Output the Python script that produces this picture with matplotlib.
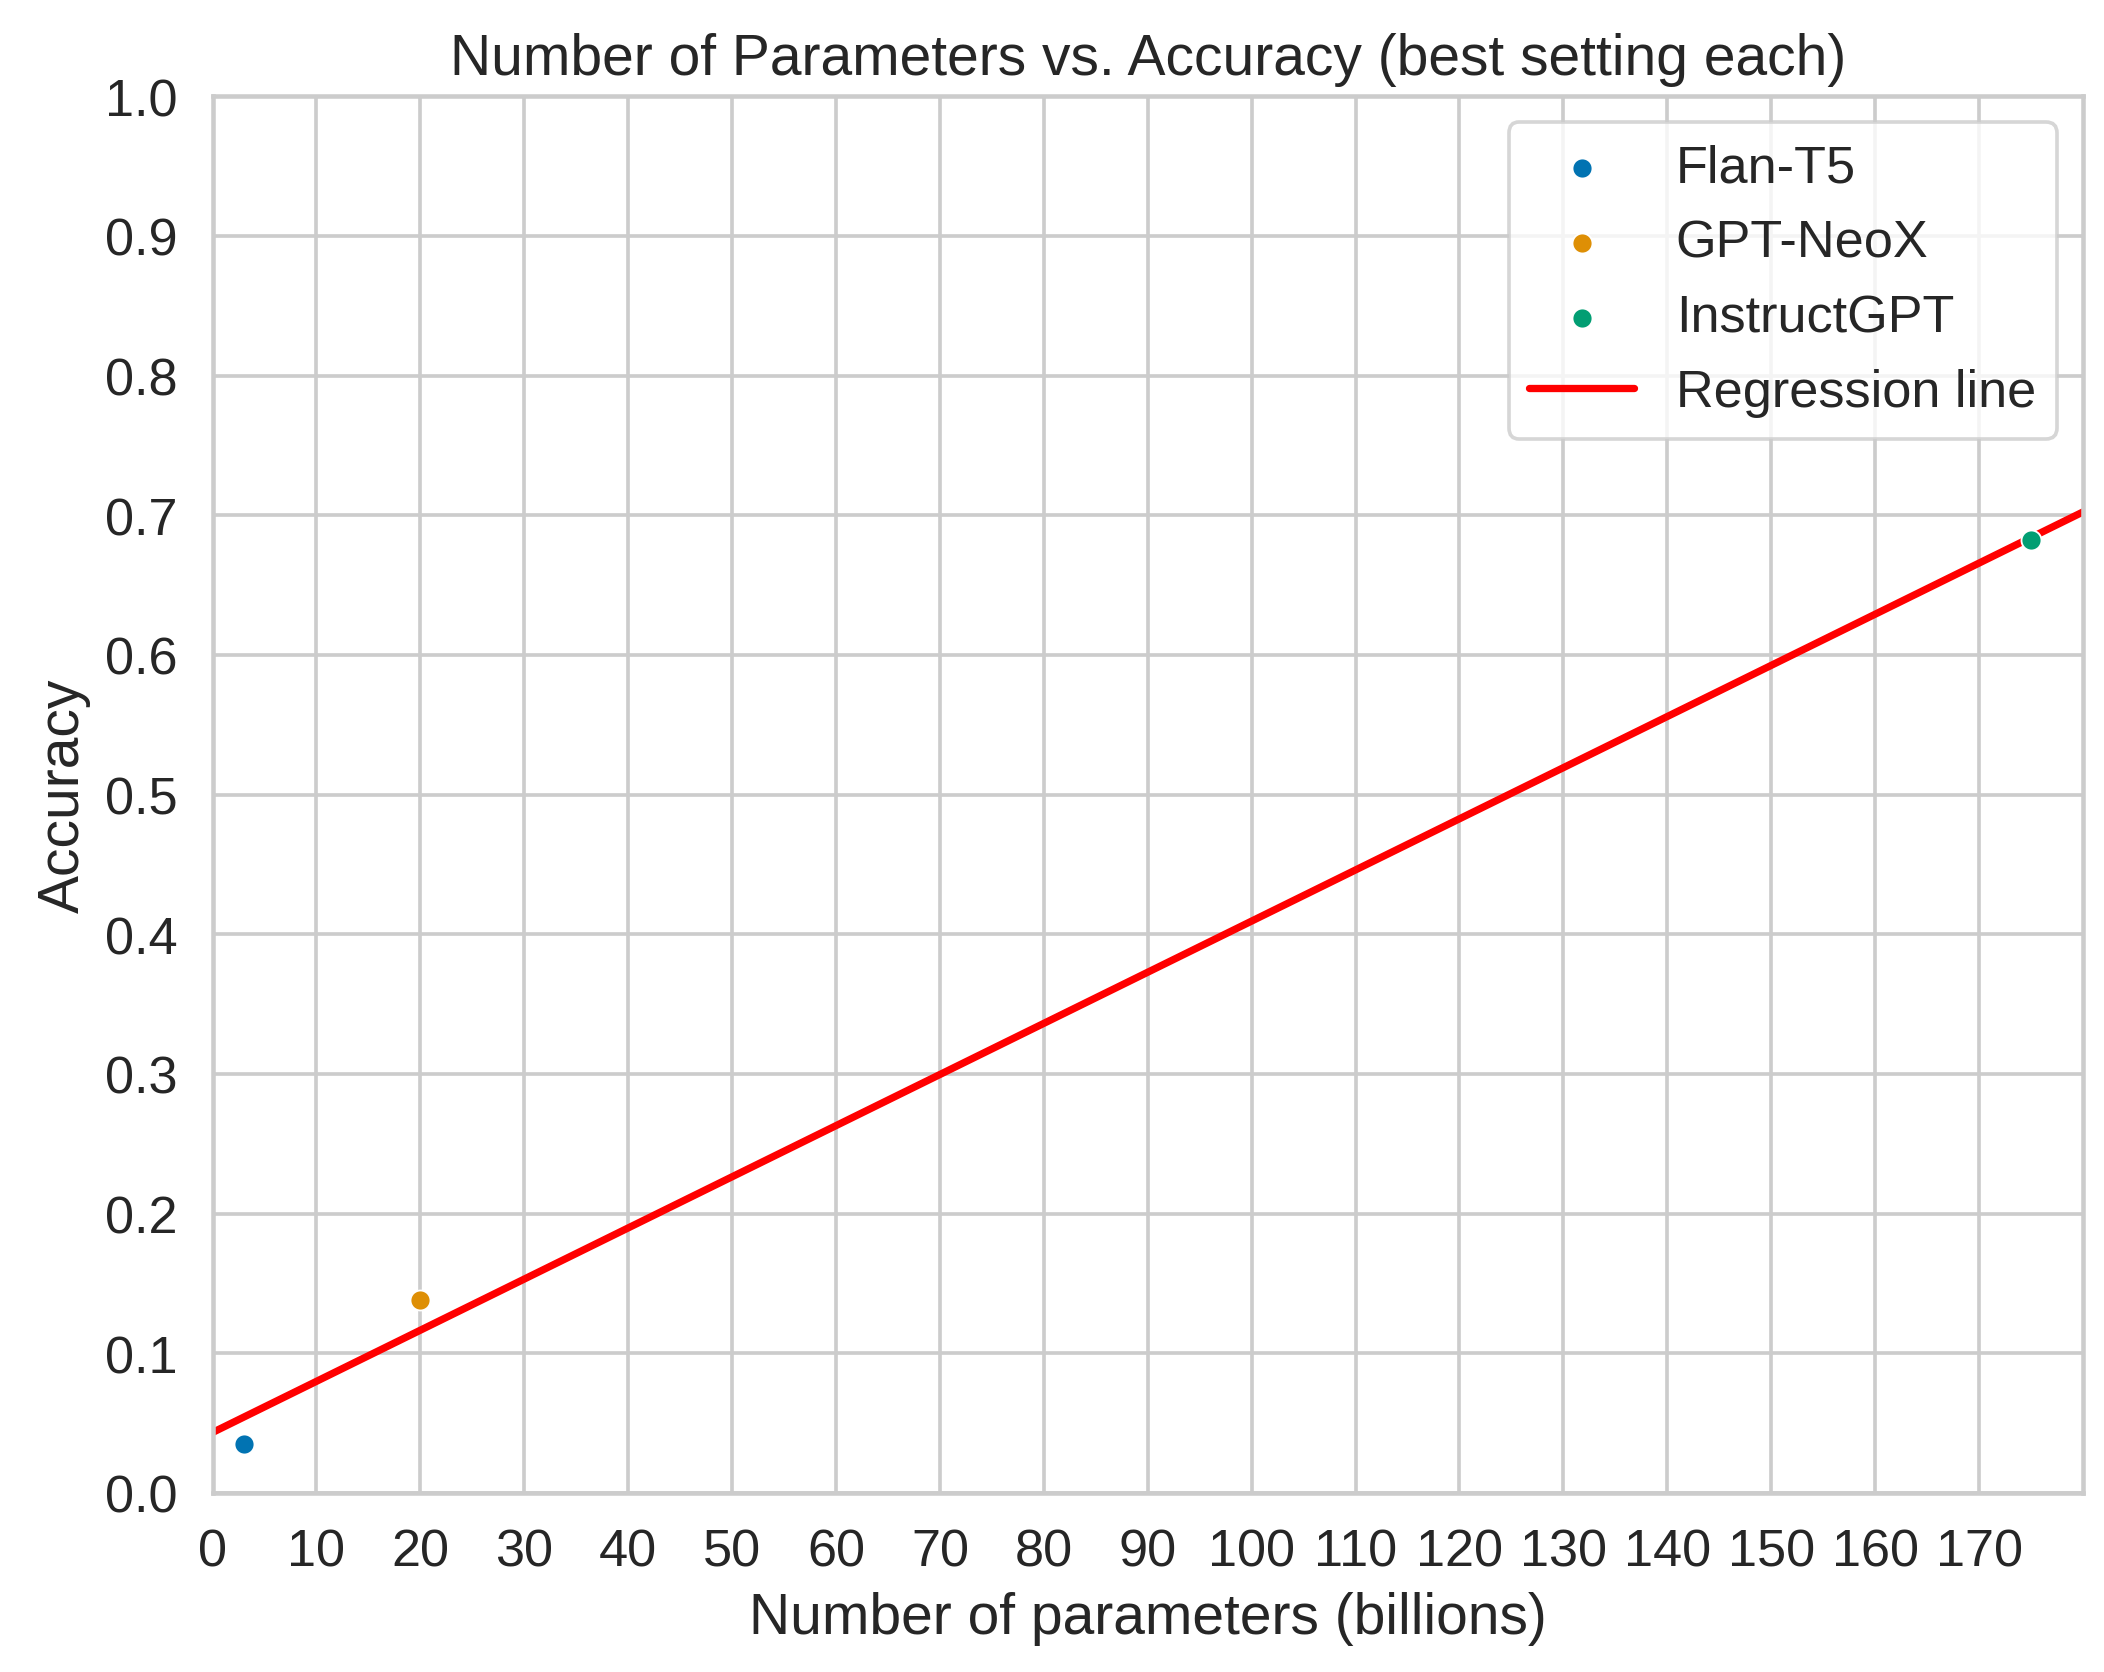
import numpy as np
import matplotlib
matplotlib.use("Agg")
import matplotlib.pyplot as plt
import seaborn as sns

sns.set_theme(style="whitegrid", palette="colorblind", font_scale=1.3)
plt.rcParams['font.family'] = ['Liberation Sans', 'DejaVu Sans']

models = ["Flan-T5", "GPT-NeoX", "InstructGPT"]
params = [3, 20, 175]
accuracy = [0.035, 0.138, 0.682]

fig, ax = plt.subplots(figsize=(8, 6.36), dpi=263)
colors = sns.color_palette("colorblind")
for i, m in enumerate(models):
    ax.scatter(params[i], accuracy[i], color=colors[i], s=30, label=m, edgecolor="white", linewidth=0.5, zorder=3)

slope, intercept = np.polyfit(params, accuracy, 1)
xs = np.array([0, 180])
ax.plot(xs, slope * xs + intercept, color="red", linewidth=2, label="Regression line")

ax.set_xlim(0, 180)
ax.set_ylim(0, 1)
ax.set_xticks(np.arange(0, 180, 10))
ax.set_yticks(np.arange(0, 1.01, 0.1))
ax.set_xlabel("Number of parameters (billions)")
ax.set_ylabel("Accuracy")
ax.set_title("Number of Parameters vs. Accuracy (best setting each)")
ax.legend(loc="upper right")
fig.subplots_adjust(left=0.101, right=0.99, top=0.942, bottom=0.107)
fig.savefig("out.png")
